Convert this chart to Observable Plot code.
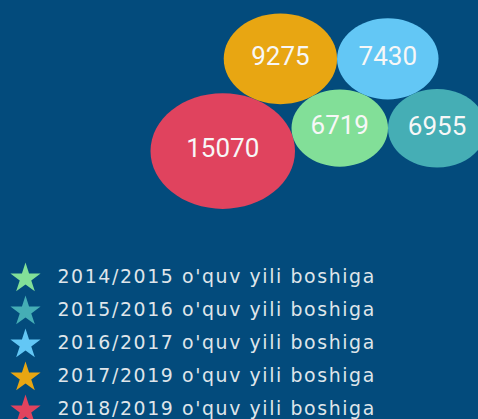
<!DOCTYPE html>
<html>
<head>
<meta charset="utf-8">
<script src="https://cdn.jsdelivr.net/npm/d3@7"></script>
<script src="https://cdn.jsdelivr.net/npm/@observablehq/plot@0.6"></script>
<style>
  html, body { margin: 0; padding: 0; background: #034b7c; width: 478px; height: 419px; overflow: hidden; }
  #chart svg, #legend svg { display: block; }
  #legend text { letter-spacing: 1.6px; }
</style>
</head>
<body>
<div id="chart"></div>
<div id="legend"></div>
<script>
// ---- data ----
const years = [
  "2014/2015 o'quv yili boshiga",
  "2015/2016 o'quv yili boshiga",
  "2016/2017 o'quv yili boshiga",
  "2017/2019 o'quv yili boshiga",
  "2018/2019 o'quv yili boshiga"
];
const values = [6719, 6955, 7430, 9275, 15070];
const colors = ["#82df98", "#45aeb5", "#63c7f5", "#e8a612", "#e0435e"];

// ---- packed-bubble layout (tangent placement computed from radii) ----
const rMax = 57.8, aspect = 1.25;
const rOf = d3.scaleSqrt().domain([0, d3.max(values)]).range([0, rMax]);
const nodes = values.map((v, i) => ({label: years[i], value: v, r: rOf(v)}));

function tangent(a, b, c, side) {
  const dx = b.x - a.x, dy = b.y - a.y, d = Math.hypot(dx, dy);
  const da = a.r + c.r, db = b.r + c.r;
  const t = (d * d + da * da - db * db) / (2 * d);
  const h = Math.sqrt(Math.max(0, da * da - t * t));
  const ux = dx / d, uy = dy / d, nx = -uy, ny = ux;
  c.x = a.x + ux * t + side * nx * h;
  c.y = a.y + uy * t + side * ny * h;
}
// seed pair, then each next bubble touches two already placed ones
nodes[3].x = 0; nodes[3].y = 0;
nodes[2].x = nodes[3].r + nodes[2].r; nodes[2].y = 0;
tangent(nodes[3], nodes[2], nodes[0], 1);
tangent(nodes[2], nodes[0], nodes[1], -1);
tangent(nodes[3], nodes[0], nodes[4], 1);

const minX = d3.min(nodes, n => n.x - n.r), maxX = d3.max(nodes, n => n.x + n.r);
const minY = d3.min(nodes, n => n.y - n.r), maxY = d3.max(nodes, n => n.y + n.r);
const packLeft = 150, packTop = 13;

// ellipse symbol (bubbles are drawn wider than tall)
const ellipse = {
  draw(ctx, size) {
    const r = Math.sqrt(size / Math.PI), rx = r * aspect, ry = r, k = 0.5523;
    ctx.moveTo(rx, 0);
    ctx.bezierCurveTo(rx, k * ry, k * rx, ry, 0, ry);
    ctx.bezierCurveTo(-k * rx, ry, -rx, k * ry, -rx, 0);
    ctx.bezierCurveTo(-rx, -k * ry, -k * rx, -ry, 0, -ry);
    ctx.bezierCurveTo(k * rx, -ry, rx, -k * ry, rx, 0);
    ctx.closePath();
  }
};

const chart = Plot.plot({
  width: 478,
  height: 240,
  margin: 0,
  style: {background: "transparent", fontFamily: "Roboto"},
  x: {domain: [minX, maxX], range: [packLeft, packLeft + aspect * (maxX - minX)], axis: null},
  y: {domain: [minY, maxY], range: [packTop, packTop + (maxY - minY)], axis: null},
  r: {type: "sqrt", domain: [0, d3.max(values)], range: [0, rMax]},
  color: {domain: years, range: colors},
  marks: [
    Plot.dot(nodes, {x: "x", y: "y", r: "value", fill: "label", symbol: ellipse}),
    Plot.text(nodes, {x: "x", y: "y", text: d => String(d.value), fill: "#f7f7f7", fontSize: 26, dy: -2})
  ]
});
document.getElementById("chart").append(chart);

const legend = Plot.plot({
  width: 478,
  height: 179,
  margin: 0,
  style: {background: "transparent", fontFamily: "'DejaVu Sans'"},
  y: {type: "point", domain: years, range: [35, 169], padding: 0, axis: null},
  color: {domain: years, range: colors},
  marks: [
    Plot.dot(years, {y: d => d, fill: d => d, symbol: "star", r: 9.5, frameAnchor: "left", dx: 25, dy: 2}),
    Plot.text(years, {y: d => d, text: d => d, frameAnchor: "left", dx: 57, textAnchor: "start", fontSize: 18.9, fill: "#dfe5ea"})
  ]
});
document.getElementById("legend").append(legend);
</script>
</body>
</html>
